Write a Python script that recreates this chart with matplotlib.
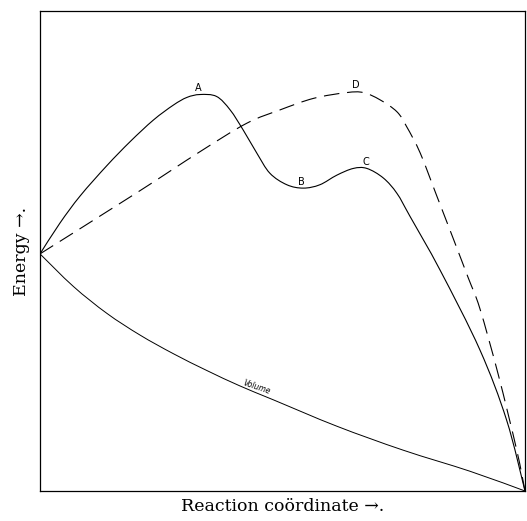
import matplotlib.pyplot as plt
from matplotlib.path import Path
from matplotlib.patches import PathPatch

# reaction coordinate (0-100) and energy (0-100)
solid_x = [0, 4.1, 8.3, 13.8, 18.6, 23.4, 27.5, 30.3, 33.0, 36.4, 39.2, 41.9, 44.7,
           47.4, 50.9, 54.3, 57.7, 61.2, 64.6, 67.4, 70.8, 73.6, 76.3, 82.5, 90.7, 96.2, 100]
solid_y = [49.4, 55.8, 61.5, 67.8, 72.8, 77.3, 80.4, 82.0, 82.6, 82.2, 79.4, 75.2, 70.4,
           66.2, 63.8, 63.1, 63.8, 65.8, 67.2, 67.2, 65.2, 62.0, 57.2, 46.0, 29.4, 14.8, 0]

dashed_x = [0, 19.9, 33.0, 42.6, 49.5, 56.4, 63.2, 66.7, 70.1, 73.6, 75.6, 78.4, 81.8,
            85.2, 88.3, 90.7, 94.5, 98.3, 100]
dashed_y = [49.4, 62.1, 70.7, 76.6, 79.4, 81.8, 83.0, 83.0, 81.5, 79.0, 75.9, 70.4, 61.5,
            52.6, 44.4, 38.0, 24.2, 8.5, 0]

volume_x = [0, 6.9, 13.8, 20.6, 27.5, 34.4, 41.2, 48.1, 61.2, 74.9, 88.7, 100]
volume_y = [49.4, 42.6, 37.0, 32.5, 28.6, 25.1, 21.9, 19.0, 13.5, 8.5, 4.1, 0]

point_labels = ["A", "B", "C", "D"]
point_x = [32.6, 53.8, 67.2, 65.2]
point_y = [83.0, 63.4, 67.4, 83.6]


def smooth_path(xs, ys):
    # curve through the read points (Catmull-Rom as cubic Bezier segments)
    pts = list(zip(xs, ys))
    verts = [pts[0]]
    codes = [Path.MOVETO]
    n = len(pts)
    for i in range(n - 1):
        p0 = pts[max(i - 1, 0)]
        p1 = pts[i]
        p2 = pts[i + 1]
        p3 = pts[min(i + 2, n - 1)]
        c1 = (p1[0] + (p2[0] - p0[0]) / 6, p1[1] + (p2[1] - p0[1]) / 6)
        c2 = (p2[0] - (p3[0] - p1[0]) / 6, p2[1] - (p3[1] - p1[1]) / 6)
        verts += [c1, c2, p2]
        codes += [Path.CURVE4] * 3
    return Path(verts, codes)


fig = plt.figure(figsize=(5.27, 5.21), dpi=100)
ax = fig.add_axes([40 / 527, 30 / 521, 485 / 527, 480 / 521])

ax.add_patch(PathPatch(smooth_path(solid_x, solid_y), fill=False, edgecolor="black", linewidth=0.8))
ax.add_patch(PathPatch(smooth_path(dashed_x, dashed_y), fill=False, edgecolor="black",
                       linewidth=0.8, linestyle=(0, (14, 7))))
ax.add_patch(PathPatch(smooth_path(volume_x, volume_y), fill=False, edgecolor="black", linewidth=0.7))

for lab, x, y in zip(point_labels, point_x, point_y):
    ax.text(x, y, lab, fontsize=7, ha="center", va="bottom", family="DejaVu Sans")

ax.text(44.6, 19.8, "Volume", fontsize=5.5, rotation=-19, ha="center", va="bottom",
        family="DejaVu Sans", style="italic")

ax.set_xlim(0, 100)
ax.set_ylim(0, 100)
ax.set_xticks([])
ax.set_yticks([])
for s in ax.spines.values():
    s.set_linewidth(0.9)

ax.set_xlabel("Reaction coördinate →.", fontsize=12.5, family="DejaVu Serif", labelpad=5)
ax.set_ylabel("Energy →.", fontsize=12.5, family="DejaVu Serif", labelpad=7)

plt.savefig("out.png", dpi=100)
